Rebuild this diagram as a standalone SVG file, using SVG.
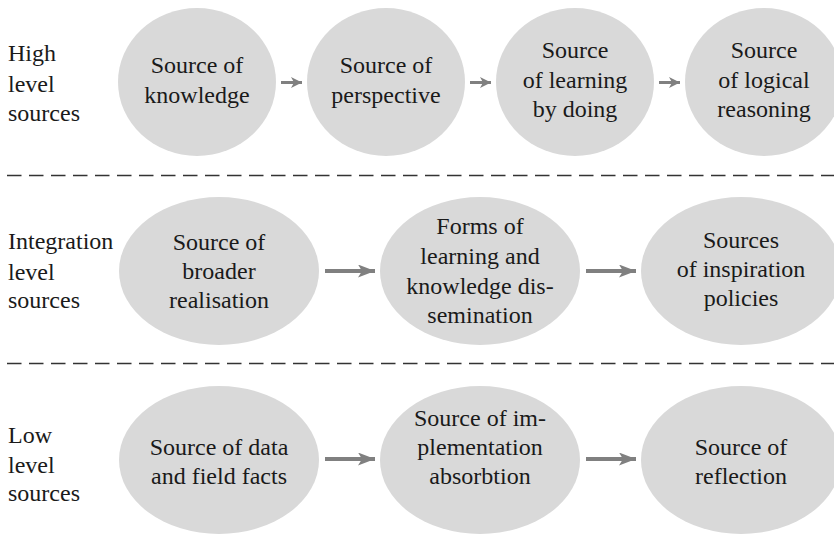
<svg xmlns="http://www.w3.org/2000/svg" width="834" height="535" viewBox="0 0 834 535">
<style>
.n{fill:#d9d9d9;stroke:none}
text{font-family:"Liberation Serif","Times New Roman",serif;font-size:24px;fill:#1a1a1a}
.c{text-anchor:middle}
.a{stroke:#808080;fill:none}
.s{stroke-width:3}
.b{stroke-width:4}
.d{stroke:#333;stroke-width:1.3;stroke-dasharray:14.5 7.5;fill:none}
</style>
<defs>
<marker id="ahS" markerUnits="userSpaceOnUse" markerWidth="11" markerHeight="12" refX="11" refY="6" orient="auto"><path d="M0,0.5 L11,6 L0,11.5 L3,6 z" fill="#808080"/></marker>
<marker id="ahB" markerUnits="userSpaceOnUse" markerWidth="17" markerHeight="13" refX="17" refY="6.5" orient="auto"><path d="M0,0 L17,6.5 L0,13 L4,6.5 z" fill="#808080"/></marker>
</defs>
<rect width="834" height="535" fill="#fff"/>
<g id="separators">
<line class="d" x1="7" y1="175.5" x2="834" y2="175.5"/>
<line class="d" x1="7" y1="363.5" x2="834" y2="363.5"/>
</g>
<g id="label-high"><text x="8" y="61">High</text><text x="8" y="92">level</text><text x="8" y="121">sources</text></g>
<g id="label-integration"><text x="8" y="249">Integration</text><text x="8" y="280">level</text><text x="8" y="308">sources</text></g>
<g id="label-low"><text x="8" y="443">Low</text><text x="8" y="473">level</text><text x="8" y="501">sources</text></g>

<g id="n-knowledge"><ellipse class="n" cx="197" cy="82" rx="79" ry="74"/><text class="c" x="197" y="73">Source of</text><text class="c" x="197" y="103">knowledge</text></g>
<g id="n-perspective"><ellipse class="n" cx="386" cy="82" rx="79" ry="74"/><text class="c" x="386" y="73">Source of</text><text class="c" x="386" y="103">perspective</text></g>
<g id="n-learning"><ellipse class="n" cx="575" cy="82" rx="79" ry="74"/><text class="c" x="575" y="58">Source</text><text class="c" x="575" y="88">of learning</text><text class="c" x="575" y="117">by doing</text></g>
<g id="n-logical"><ellipse class="n" cx="764" cy="82" rx="79" ry="74"/><text class="c" x="764" y="58">Source</text><text class="c" x="764" y="88">of logical</text><text class="c" x="764" y="117">reasoning</text></g>

<g id="n-broader"><ellipse class="n" cx="219" cy="271" rx="100" ry="74"/><text class="c" x="219" y="250">Source of</text><text class="c" x="219" y="279">broader</text><text class="c" x="219" y="308">realisation</text></g>
<g id="n-forms"><ellipse class="n" cx="480" cy="271" rx="100" ry="74"/><text class="c" x="480" y="234">Forms of</text><text class="c" x="480" y="264">learning and</text><text class="c" x="480" y="294">knowledge dis-</text><text class="c" x="480" y="323">semination</text></g>
<g id="n-inspiration"><ellipse class="n" cx="741" cy="271" rx="100" ry="74"/><text class="c" x="741" y="248">Sources</text><text class="c" x="741" y="277">of inspiration</text><text class="c" x="741" y="306">policies</text></g>

<g id="n-data"><ellipse class="n" cx="219" cy="460" rx="100" ry="74"/><text class="c" x="219" y="455">Source of data</text><text class="c" x="219" y="484">and field facts</text></g>
<g id="n-implementation"><ellipse class="n" cx="480" cy="460" rx="100" ry="74"/><text class="c" x="480" y="426">Source of im-</text><text class="c" x="480" y="455">plementation</text><text class="c" x="480" y="484">absorbtion</text></g>
<g id="n-reflection"><ellipse class="n" cx="741" cy="460" rx="100" ry="74"/><text class="c" x="741" y="455">Source of</text><text class="c" x="741" y="484">reflection</text></g>

<g id="connectors">
<line class="a s" x1="281" y1="82.5" x2="302" y2="82.5" marker-end="url(#ahS)"/>
<line class="a s" x1="470" y1="82.5" x2="491" y2="82.5" marker-end="url(#ahS)"/>
<line class="a s" x1="659" y1="82.5" x2="680" y2="82.5" marker-end="url(#ahS)"/>
<line class="a b" x1="325" y1="271" x2="375" y2="271" marker-end="url(#ahB)"/>
<line class="a b" x1="586" y1="271" x2="636" y2="271" marker-end="url(#ahB)"/>
<line class="a b" x1="325" y1="459" x2="375" y2="459" marker-end="url(#ahB)"/>
<line class="a b" x1="586" y1="459" x2="636" y2="459" marker-end="url(#ahB)"/>
</g>
</svg>
